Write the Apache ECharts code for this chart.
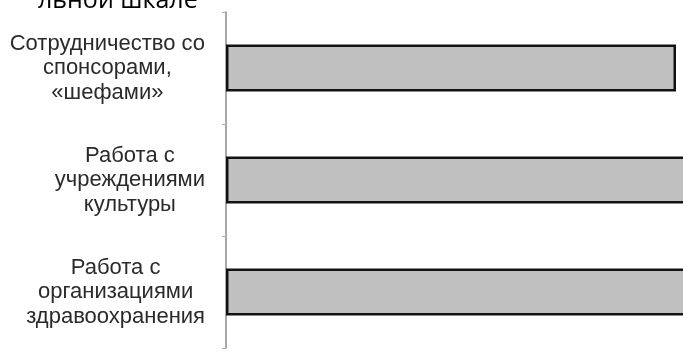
<!DOCTYPE html>
<html lang="ru">
<head>
    <meta charset="UTF-8">
    <title>Диаграмма</title>
    <script src="https://cdn.jsdelivr.net/npm/echarts@6/dist/echarts.min.js"></script>
    <style>
        html, body { margin: 0; padding: 0; background: #fff; }
    </style>
</head>
<body>
<div id="chart" style="width:683px; height:353px;"></div>
<script type="text/javascript">
    // данные
    var categories = [
        'Сотрудничество со\nспонсорами,\n«шефами»',
        'Работа с\nучреждениями\nкультуры',
        'Работа с\nорганизациями\nздравоохранения'
    ];
    var values = [90, 100, 100];
    var titleText = 'льной шкале';

    var myChart = echarts.init(document.getElementById('chart'));

    myChart.setOption({
        animation: false,
        graphic: [{
            type: 'text',
            x: 38,
            y: 13,
            style: {
                text: titleText,
                fontFamily: 'Open Sans',
                fontSize: 25,
                fill: '#000',
                verticalAlign: 'bottom'
            }
        }],
        grid: {
            left: 226,
            width: 500,
            top: 12,
            bottom: 5,
            outerBoundsMode: 'none',
            containLabel: false
        },
        xAxis: {
            type: 'value',
            min: 0,
            max: 100,
            show: false
        },
        yAxis: {
            type: 'category',
            inverse: true,
            data: categories,
            axisLine: {show: true, lineStyle: {color: '#8a8a8a', width: 1.5}},
            axisTick: {show: true, length: 4, lineStyle: {color: '#b0b0b0'}},
            axisLabel: {
                margin: 21,
                align: 'right',
                color: '#2a2a2a',
                fontFamily: 'Liberation Sans',
                fontSize: 22,
                lineHeight: 24.5,
                // строки по центру внутри блока
                formatter: function (v) {
                    return v.split('\n').map(function (s) {
                        return '{c|' + s + '}';
                    }).join('\n');
                },
                rich: {
                    c: {
                        align: 'center',
                        fontFamily: 'Liberation Sans',
                        fontSize: 22,
                        lineHeight: 24.5,
                        color: '#2a2a2a'
                    }
                }
            }
        },
        series: [{
            type: 'bar',
            data: values,
            barCategoryGap: '58%',
            itemStyle: {
                color: '#c0c0c0',
                borderColor: '#111',
                borderWidth: 2.5
            }
        }]
    });
</script>
</body>
</html>
